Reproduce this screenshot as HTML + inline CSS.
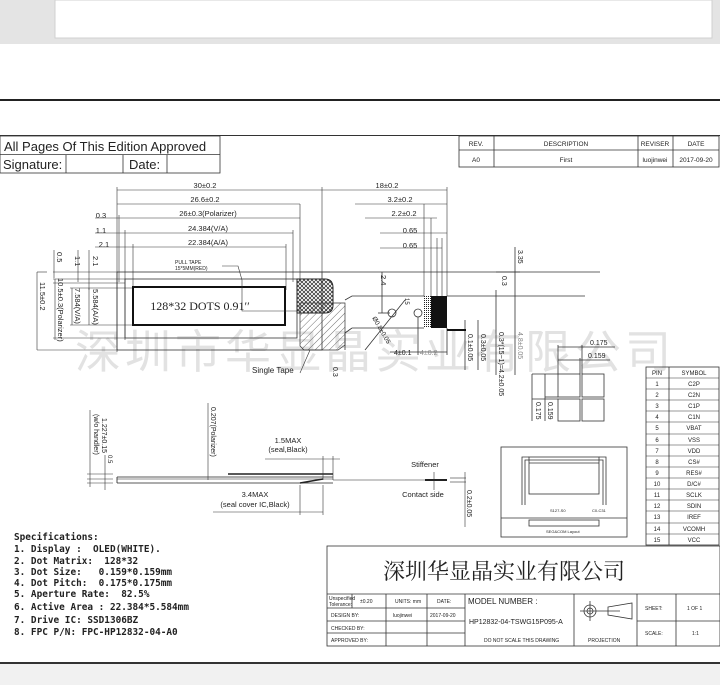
<!DOCTYPE html>
<html><head><meta charset="utf-8"><style>
html,body{margin:0;padding:0;background:#fff;}
svg{display:block;}
text{font-family:"Liberation Sans","Noto Sans CJK SC",sans-serif;fill:#222;}
.m text{font-family:"DejaVu Sans Mono","Liberation Mono",monospace;}
.ser{font-family:"Liberation Serif",serif !important;}
</style></head><body>
<svg width="720" height="685" viewBox="0 0 720 685" xmlns="http://www.w3.org/2000/svg">
<rect x="0" y="0" width="720" height="44" fill="#e4e4e4"/>
<rect x="55" y="0" width="657" height="38" fill="#fff" stroke="#d0d0d0"/>
<rect x="0" y="99" width="720" height="2" fill="#222"/>
<line x1="0" y1="135.5" x2="720" y2="135.5" stroke="#333" stroke-width="1"/>
<g stroke="#333" fill="none" stroke-width="0.8">
<rect x="0" y="136" width="220" height="37"/>
<line x1="0" y1="154.5" x2="220" y2="154.5"/>
<line x1="66" y1="155" x2="66" y2="173"/>
<line x1="123" y1="155" x2="123" y2="173"/>
<line x1="167" y1="155" x2="167" y2="173"/>
</g>
<text x="4" y="151" font-size="13">All Pages Of This Edition Approved</text>
<text x="3" y="169" font-size="13">Signature:</text>
<text x="129" y="169" font-size="13">Date:</text>
<g stroke="#333" fill="none" stroke-width="0.8">
<rect x="459" y="136" width="260" height="31"/>
<line x1="459" y1="150" x2="719" y2="150"/>
<line x1="494" y1="136" x2="494" y2="167"/>
<line x1="638" y1="136" x2="638" y2="167"/>
<line x1="673" y1="136" x2="673" y2="167"/>
</g>
<g font-size="6.5" text-anchor="middle">
<text x="476" y="146">REV.</text><text x="566" y="146">DESCRIPTION</text><text x="655" y="146">REVISER</text><text x="696" y="146">DATE</text>
<text x="476" y="162">A0</text><text x="566" y="162">First</text><text x="655" y="162">luojinwei</text><text x="696" y="162">2017-09-20</text>
</g>
<text x="375" y="368" font-size="46" text-anchor="middle" style="fill:#e2e2e2;font-family:'Noto Sans CJK SC',sans-serif" letter-spacing="4">深圳市华显晶实业有限公司</text>

<g stroke="#333" stroke-width="0.6" fill="none">
<line x1="117" y1="190" x2="322" y2="190"/>
<line x1="117" y1="204" x2="300" y2="204"/>
<line x1="95" y1="218" x2="300" y2="218"/>
<line x1="95" y1="233" x2="293" y2="233"/>
<line x1="95" y1="247" x2="286" y2="247"/>
<line x1="117" y1="187" x2="117" y2="352"/>
<line x1="119" y1="215" x2="119" y2="282"/>
<line x1="125" y1="230" x2="125" y2="340"/>
<line x1="133" y1="244" x2="133" y2="290"/>
<line x1="300" y1="204" x2="300" y2="282"/>
<line x1="293" y1="230" x2="293" y2="282"/>
<line x1="286" y1="244" x2="286" y2="290"/>
<line x1="322" y1="187" x2="322" y2="272"/>
<line x1="322" y1="190" x2="447" y2="190"/>
<line x1="355" y1="204" x2="447" y2="204"/>
<line x1="365" y1="218" x2="437" y2="218"/>
<line x1="380" y1="233" x2="447" y2="233"/>
<line x1="380" y1="248" x2="442" y2="248"/>
<line x1="424" y1="204" x2="424" y2="296"/>
<line x1="431" y1="218" x2="431" y2="296"/>
<line x1="437" y1="238" x2="437" y2="296"/>
<line x1="442" y1="238" x2="442" y2="296"/>
<line x1="447" y1="187" x2="447" y2="296"/>
<line x1="37" y1="272" x2="47" y2="272"/>
<line x1="54" y1="250" x2="54" y2="278"/>
<line x1="78" y1="250" x2="78" y2="282"/>
<line x1="89" y1="250" x2="89" y2="290"/>
<line x1="37" y1="272" x2="37" y2="350"/>
<line x1="55" y1="279" x2="55" y2="340"/>
<line x1="72" y1="288" x2="72" y2="325"/>
<line x1="89" y1="288" x2="89" y2="325"/>
<line x1="37" y1="350" x2="118" y2="350"/>
<line x1="53" y1="272" x2="118" y2="272"/>
<line x1="53" y1="279" x2="125" y2="279"/>
<line x1="53" y1="283" x2="125" y2="283"/>
<line x1="53" y1="338" x2="125" y2="338"/>
<line x1="70" y1="288" x2="133" y2="288"/>
<line x1="70" y1="325" x2="133" y2="325"/>
</g>
<g font-size="7.5" text-anchor="middle">
<text x="205" y="188">30±0.2</text>
<text x="205" y="202">26.6±0.2</text>
<text x="208" y="216">26±0.3(Polarizer)</text>
<text x="208" y="231">24.384(V/A)</text>
<text x="208" y="245">22.384(A/A)</text>
<text x="101" y="218">0.3</text>
<text x="101" y="233">1.1</text>
<text x="104" y="247">2.1</text>
<text x="387" y="188">18±0.2</text>
<text x="400" y="202">3.2±0.2</text>
<text x="404" y="216">2.2±0.2</text>
<text x="410" y="233">0.65</text>
<text x="410" y="248">0.65</text>
</g>
<g font-size="7.5">
<text transform="translate(57,252) rotate(90)">0.5</text>
<text transform="translate(75,256) rotate(90)">1.1</text>
<text transform="translate(93,256) rotate(90)">2.1</text>
<text transform="translate(40,282) rotate(90)">11.5±0.2</text>
<text transform="translate(58,278) rotate(90)">10.5±0.3(Polarizer)</text>
<text transform="translate(75,288) rotate(90)">7.584(V/A)</text>
<text transform="translate(93,289) rotate(90)">5.584(A/A)</text>
</g>
<g stroke="#333" fill="none" stroke-width="0.8">
<rect x="117" y="272" width="205" height="78"/>
<rect x="125" y="279" width="172" height="59"/>
</g>
<rect x="133" y="287" width="152" height="38" fill="none" stroke="#111" stroke-width="2"/>
<text x="200" y="310" font-size="12" text-anchor="middle" class="ser">128*32 DOTS 0.91′′</text>
<text x="175" y="264" font-size="5">PULL TAPE</text>
<text x="175" y="270" font-size="5">15*5MM(RED)</text>
<polyline points="222,266 238,266 242,280 242,311 300,311" fill="none" stroke="#333" stroke-width="0.6"/>
<defs>
<pattern id="xh" width="4" height="4" patternUnits="userSpaceOnUse"><path d="M0 0L4 4M4 0L0 4" stroke="#222" stroke-width="0.7"/></pattern>
<pattern id="dh" width="5" height="5" patternUnits="userSpaceOnUse" patternTransform="rotate(45)"><line x1="0" y1="0" x2="0" y2="5" stroke="#333" stroke-width="0.7"/></pattern>
<pattern id="dt" width="2" height="2" patternUnits="userSpaceOnUse"><rect width="1" height="1" fill="#222"/></pattern>
</defs>
<path d="M297 279 H325 Q333 279 333 288 V305 Q333 313 325 313 H297 Z" fill="url(#xh)" stroke="#222"/>
<path d="M300 303 H345 V345 L338 350 H304 L300 346 Z" fill="url(#dh)" stroke="#333" stroke-width="0.7"/>
<text x="252" y="373" font-size="8">Single Tape</text>
<line x1="300" y1="373" x2="310" y2="350" stroke="#333" stroke-width="0.6"/>
<text transform="translate(333,367) rotate(90)" font-size="7">0.3</text>
<g stroke="#333" stroke-width="0.8" fill="none">
<polyline points="322,272 600,272"/>
<polyline points="345,300 352,296 424,296"/>
<polyline points="352,328 345,333 345,350"/>
<line x1="352" y1="328" x2="424" y2="328"/>
<line x1="447" y1="296" x2="585" y2="296"/>
<line x1="300" y1="272" x2="330" y2="272"/>
<circle cx="392" cy="313" r="4"/>
<circle cx="418" cy="313" r="4"/>
<line x1="378" y1="313" x2="390" y2="313"/>
<line x1="382" y1="272" x2="382" y2="313"/>
<line x1="365" y1="350" x2="405" y2="300"/>
<line x1="418" y1="317" x2="418" y2="355"/>
<line x1="447" y1="328" x2="447" y2="355"/>
<line x1="390" y1="352" x2="447" y2="352"/>
<line x1="465" y1="320" x2="465" y2="370"/>
<line x1="478" y1="320" x2="478" y2="370"/>
<line x1="496" y1="290" x2="496" y2="375"/>
<line x1="515" y1="247" x2="515" y2="375"/>
<line x1="496" y1="272" x2="520" y2="272"/>
</g>
<rect x="424" y="296" width="7" height="32" fill="url(#dt)"/>
<rect x="431" y="296" width="16" height="32" fill="#111"/>
<line x1="447" y1="330" x2="466" y2="330" stroke="#111" stroke-width="2"/>
<text transform="translate(381,275) rotate(90)" font-size="7.5">2.4</text>
<text transform="translate(405,298) rotate(90)" font-size="6">15</text>
<text transform="translate(372,318) rotate(60)" font-size="6.5">Ø0.8±0.05</text>
<text x="394" y="355" font-size="7">4±0.1</text>
<text x="420" y="355" font-size="7" style="fill:#888">4±0.2</text>
<text transform="translate(468,334) rotate(90)" font-size="7">0.1±0.05</text>
<text transform="translate(481,334) rotate(90)" font-size="7">0.3±0.05</text>
<text transform="translate(499,332) rotate(90)" font-size="7">0.3*(15−1)=4.2±0.05</text>
<text transform="translate(518,332) rotate(90)" font-size="7" style="fill:#888">4.8±0.05</text>
<text transform="translate(518,250) rotate(90)" font-size="7">3.35</text>
<text transform="translate(502,276) rotate(90)" font-size="7">0.3</text>

<g stroke="#333" stroke-width="0.8" fill="none">
<rect x="558" y="374" width="22" height="23"/><rect x="582" y="374" width="22" height="23"/>
<rect x="558" y="399" width="22" height="22"/><rect x="582" y="399" width="22" height="22"/>
<line x1="558" y1="347" x2="615" y2="347"/><line x1="558" y1="360" x2="610" y2="360"/>
<line x1="558" y1="345" x2="558" y2="374"/><line x1="582" y1="345" x2="582" y2="374"/><line x1="580" y1="358" x2="580" y2="374"/>
<line x1="532" y1="374" x2="558" y2="374"/><line x1="532" y1="399" x2="558" y2="399"/><line x1="545" y1="397" x2="558" y2="397"/>
<line x1="532" y1="374" x2="532" y2="421"/><line x1="545" y1="374" x2="545" y2="421"/>
</g>
<text x="590" y="345" font-size="7">0.175</text>
<text x="588" y="358" font-size="7">0.159</text>
<text transform="translate(536,402) rotate(90)" font-size="7">0.175</text>
<text transform="translate(548,402) rotate(90)" font-size="7">0.159</text>
<g stroke="#333" stroke-width="0.8" fill="none">
<rect x="501" y="447" width="126" height="90"/>
<line x1="501" y1="518" x2="627" y2="518"/>
<rect x="529" y="520" width="70" height="6"/>
<rect x="529" y="457" width="70" height="37"/>
<line x1="529" y1="460" x2="599" y2="460"/><line x1="529" y1="463" x2="599" y2="463"/>
<polyline points="529,457 522,457 522,505"/><polyline points="529,460 525,460 525,505"/>
<polyline points="599,457 606,457 606,505"/><polyline points="599,460 603,460 603,505"/>
</g>
<text x="550" y="512" font-size="4">S127-S0</text><text x="592" y="512" font-size="4">C0-C31</text>
<text x="546" y="533" font-size="4">SEG&amp;COM Layout</text>
<g stroke="#333" stroke-width="0.8" fill="none">
<rect x="646" y="367" width="73" height="178"/>
<line x1="669" y1="367" x2="669" y2="545"/>
</g>
<g stroke="#333" stroke-width="0.5">
<line x1="646" y1="378" x2="719" y2="378"/><line x1="646" y1="389" x2="719" y2="389"/><line x1="646" y1="400" x2="719" y2="400"/><line x1="646" y1="411" x2="719" y2="411"/><line x1="646" y1="422" x2="719" y2="422"/><line x1="646" y1="434" x2="719" y2="434"/><line x1="646" y1="445" x2="719" y2="445"/><line x1="646" y1="456" x2="719" y2="456"/><line x1="646" y1="467" x2="719" y2="467"/><line x1="646" y1="478" x2="719" y2="478"/><line x1="646" y1="489" x2="719" y2="489"/><line x1="646" y1="500" x2="719" y2="500"/><line x1="646" y1="511" x2="719" y2="511"/><line x1="646" y1="523" x2="719" y2="523"/><line x1="646" y1="534" x2="719" y2="534"/>
</g>
<g font-size="6" text-anchor="middle">
<text x="657" y="375">PIN</text><text x="694" y="375">SYMBOL</text>
<text x="657" y="386">1</text><text x="694" y="386">C2P</text>
<text x="657" y="397">2</text><text x="694" y="397">C2N</text>
<text x="657" y="408">3</text><text x="694" y="408">C1P</text>
<text x="657" y="419">4</text><text x="694" y="419">C1N</text>
<text x="657" y="430">5</text><text x="694" y="430">VBAT</text>
<text x="657" y="442">6</text><text x="694" y="442">VSS</text>
<text x="657" y="453">7</text><text x="694" y="453">VDD</text>
<text x="657" y="464">8</text><text x="694" y="464">CS#</text>
<text x="657" y="475">9</text><text x="694" y="475">RES#</text>
<text x="657" y="486">10</text><text x="694" y="486">D/C#</text>
<text x="657" y="497">11</text><text x="694" y="497">SCLK</text>
<text x="657" y="508">12</text><text x="694" y="508">SDIN</text>
<text x="657" y="519">13</text><text x="694" y="519">IREF</text>
<text x="657" y="531">14</text><text x="694" y="531">VCOMH</text>
<text x="657" y="542">15</text><text x="694" y="542">VCC</text>
</g>

<g stroke="#222" fill="none">
<line x1="228" y1="474" x2="333" y2="474" stroke-width="1.6"/>
<line x1="117" y1="477" x2="333" y2="477" stroke-width="0.8"/>
<line x1="117" y1="479" x2="333" y2="479" stroke-width="0.6"/>
<line x1="117" y1="483" x2="333" y2="483" stroke-width="0.8"/>
<line x1="117" y1="477" x2="117" y2="483" stroke-width="0.8"/>
<line x1="333" y1="480" x2="425" y2="480" stroke-width="0.6"/>
<line x1="425" y1="480" x2="447" y2="480" stroke-width="2"/>
<line x1="300" y1="483" x2="323" y2="479" stroke-width="1.5"/>
</g>
<g stroke="#333" stroke-width="0.6" fill="none">
<line x1="90" y1="410" x2="90" y2="487"/><line x1="105" y1="455" x2="105" y2="490"/>
<line x1="87" y1="474" x2="113" y2="474"/><line x1="87" y1="483" x2="113" y2="483"/><line x1="87" y1="479" x2="113" y2="479"/>
<line x1="208" y1="403" x2="208" y2="480"/>
<line x1="265" y1="459" x2="340" y2="459"/><line x1="323" y1="456" x2="323" y2="480"/><line x1="333" y1="456" x2="333" y2="480"/>
<line x1="213" y1="512" x2="323" y2="512"/><line x1="300" y1="485" x2="300" y2="515"/><line x1="323" y1="485" x2="323" y2="515"/>
<line x1="434" y1="472" x2="434" y2="490"/>
<line x1="450" y1="478" x2="466" y2="478"/><line x1="450" y1="482" x2="466" y2="482"/><line x1="465" y1="472" x2="465" y2="527"/>
</g>
<g font-size="7">
<text transform="translate(94,414) rotate(90)">(w/o handler)</text>
<text transform="translate(102,418) rotate(90)">1.227±0.15</text>
<text transform="translate(108,455) rotate(90)" font-size="6">0.5</text>
<text transform="translate(211,407) rotate(90)">0.207(Polarizer)</text>
<text transform="translate(467,490) rotate(90)">0.2±0.05</text>
</g>
<g font-size="7.5" text-anchor="middle">
<text x="288" y="443">1.5MAX</text><text x="288" y="452">(seal,Black)</text>
<text x="255" y="497">3.4MAX</text><text x="255" y="507">(seal cover IC,Black)</text>
<text x="425" y="467">Stiffener</text><text x="423" y="497">Contact side</text>
</g>
<g font-size="9.4" font-weight="bold" class="m">
<text x="14" y="540">Specifications:</text>
<text x="14" y="552" xml:space="preserve">1. Display :  OLED(WHITE).</text>
<text x="14" y="564" xml:space="preserve">2. Dot Matrix:  128*32</text>
<text x="14" y="575" xml:space="preserve">3. Dot Size:   0.159*0.159mm</text>
<text x="14" y="586" xml:space="preserve">4. Dot Pitch:  0.175*0.175mm</text>
<text x="14" y="597" xml:space="preserve">5. Aperture Rate:  82.5%</text>
<text x="14" y="610" xml:space="preserve">6. Active Area : 22.384*5.584mm</text>
<text x="14" y="623" xml:space="preserve">7. Drive IC: SSD1306BZ</text>
<text x="14" y="635" xml:space="preserve">8. FPC P/N: FPC-HP12832-04-A0</text>
</g>
<g stroke="#333" fill="none" stroke-width="0.8">
<rect x="327" y="546" width="393" height="100"/>
<line x1="327" y1="594" x2="720" y2="594"/>
<line x1="327" y1="608" x2="465" y2="608"/>
<line x1="327" y1="621" x2="465" y2="621"/>
<line x1="327" y1="633" x2="465" y2="633"/>
<line x1="637" y1="621" x2="720" y2="621"/>
<line x1="352" y1="594" x2="352" y2="608"/>
<line x1="386" y1="594" x2="386" y2="646"/>
<line x1="427" y1="594" x2="427" y2="646"/>
<line x1="465" y1="594" x2="465" y2="646"/>
<line x1="574" y1="594" x2="574" y2="646"/>
<line x1="637" y1="594" x2="637" y2="646"/>
<line x1="676" y1="594" x2="676" y2="646"/>
<circle cx="590" cy="611" r="6"/><circle cx="590" cy="611" r="3"/>
<line x1="580" y1="611" x2="620" y2="611"/><line x1="590" y1="601" x2="590" y2="621"/>
<path d="M608 607 L632 603 V619 L608 615 Z"/>
</g>
<text x="504" y="579" font-size="22" text-anchor="middle" style="font-family:'Noto Serif CJK SC','Noto Sans CJK SC',serif">深圳华显晶实业有限公司</text>
<g font-size="5">
<text x="329" y="600">Unspecified</text><text x="329" y="606">Tolerance:</text>
<text x="360" y="603">±0.20</text><text x="395" y="603">UNITS: mm</text><text x="437" y="603">DATE:</text>
<text x="331" y="617">DESIGN     BY:</text><text x="393" y="617">luojinwei</text><text x="430" y="617">2017-09-20</text>
<text x="331" y="630">CHECKED  BY:</text>
<text x="331" y="642">APPROVED BY:</text>
<text x="484" y="642">DO NOT SCALE THIS DRAWING</text>
<text x="588" y="642">PROJECTION</text>
<text x="645" y="610">SHEET:</text><text x="687" y="610">1 OF 1</text>
<text x="645" y="635">SCALE:</text><text x="692" y="635">1:1</text>
</g>
<text x="468" y="604" font-size="8">MODEL NUMBER :</text>
<text x="469" y="624" font-size="7">HP12832-04-TSWG15P095-A</text>
<rect x="0" y="662" width="720" height="2" fill="#333"/>
<rect x="0" y="664" width="720" height="21" fill="#f1f1f1"/>
</svg>
</body></html>
